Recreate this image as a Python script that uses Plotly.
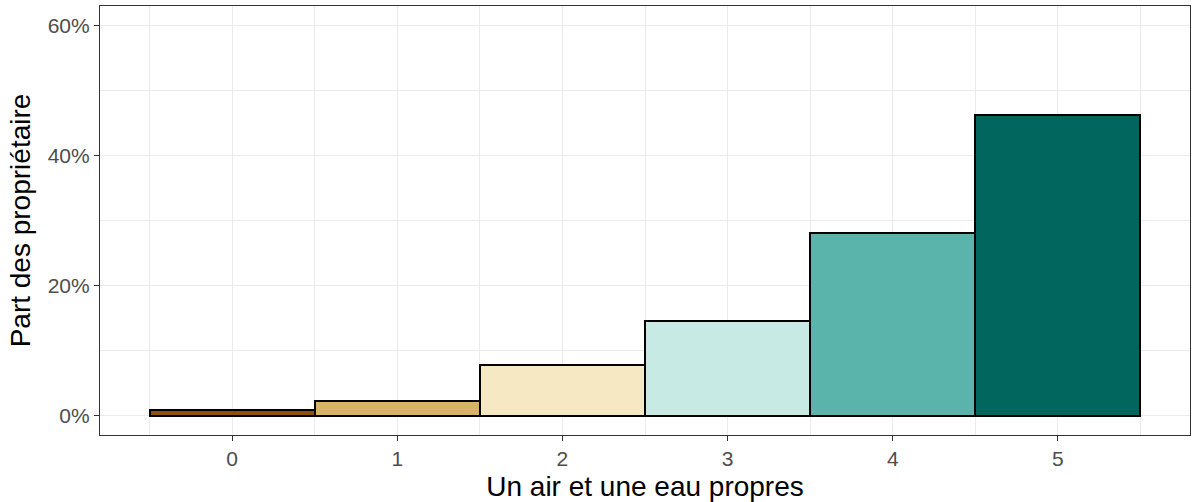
import plotly.graph_objects as go

categories = [0, 1, 2, 3, 4, 5]
shares = [0.008, 0.022, 0.077, 0.145, 0.281, 0.462]
colors = ["#8C510A", "#D8B365", "#F6E8C3", "#C7EAE5", "#5AB4AC", "#01665E"]
y_ticks = [0, 0.2, 0.4, 0.6]
y_tick_labels = ["0%", "20%", "40%", "60%"]
x_title = "Un air et une eau propres"
y_title = "Part des propriétaire"

font_family = "Liberation Sans, Arial, sans-serif"

fig = go.Figure()
fig.add_trace(go.Bar(
    x=categories,
    y=shares,
    width=1,
    marker=dict(color=colors, line=dict(color="black", width=2)),
    showlegend=False,
))

axis_common = dict(
    showline=True,
    mirror=True,
    linecolor="#333333",
    linewidth=1.2,
    ticks="outside",
    ticklen=5,
    tickwidth=1.2,
    tickcolor="#333333",
    tickfont=dict(family=font_family, size=21, color="#4D4D4D"),
    showgrid=True,
    gridcolor="#EBEBEB",
    gridwidth=1.4,
    zeroline=False,
    automargin=False,
)

fig.update_xaxes(
    **axis_common,
    range=[-0.8, 5.8],
    tickmode="array",
    tickvals=categories,
    ticktext=[str(c) for c in categories],
    minor=dict(tickmode="array", tickvals=[-0.5, 0.5, 1.5, 2.5, 3.5, 4.5, 5.5],
               showgrid=True, gridcolor="#EBEBEB", gridwidth=0.8, ticks=""),
    title=dict(text=x_title, font=dict(family=font_family, size=28, color="black"), standoff=7),
)
fig.update_yaxes(
    **axis_common,
    range=[-0.03, 0.63],
    tickmode="array",
    tickvals=y_ticks,
    ticktext=y_tick_labels,
    minor=dict(tickmode="array", tickvals=[0.1, 0.3, 0.5],
               showgrid=True, gridcolor="#EBEBEB", gridwidth=0.8, ticks=""),
    title=dict(text=y_title, font=dict(family=font_family, size=28, color="black"), standoff=8),
)

fig.update_layout(
    width=1192,
    height=502,
    margin=dict(l=100, r=2, t=6, b=67),
    paper_bgcolor="white",
    plot_bgcolor="white",
    bargap=0,
    font=dict(family=font_family),
)

fig.write_html("out.html", config={"displayModeBar": False},
               post_script="document.body.style.margin='0';")
